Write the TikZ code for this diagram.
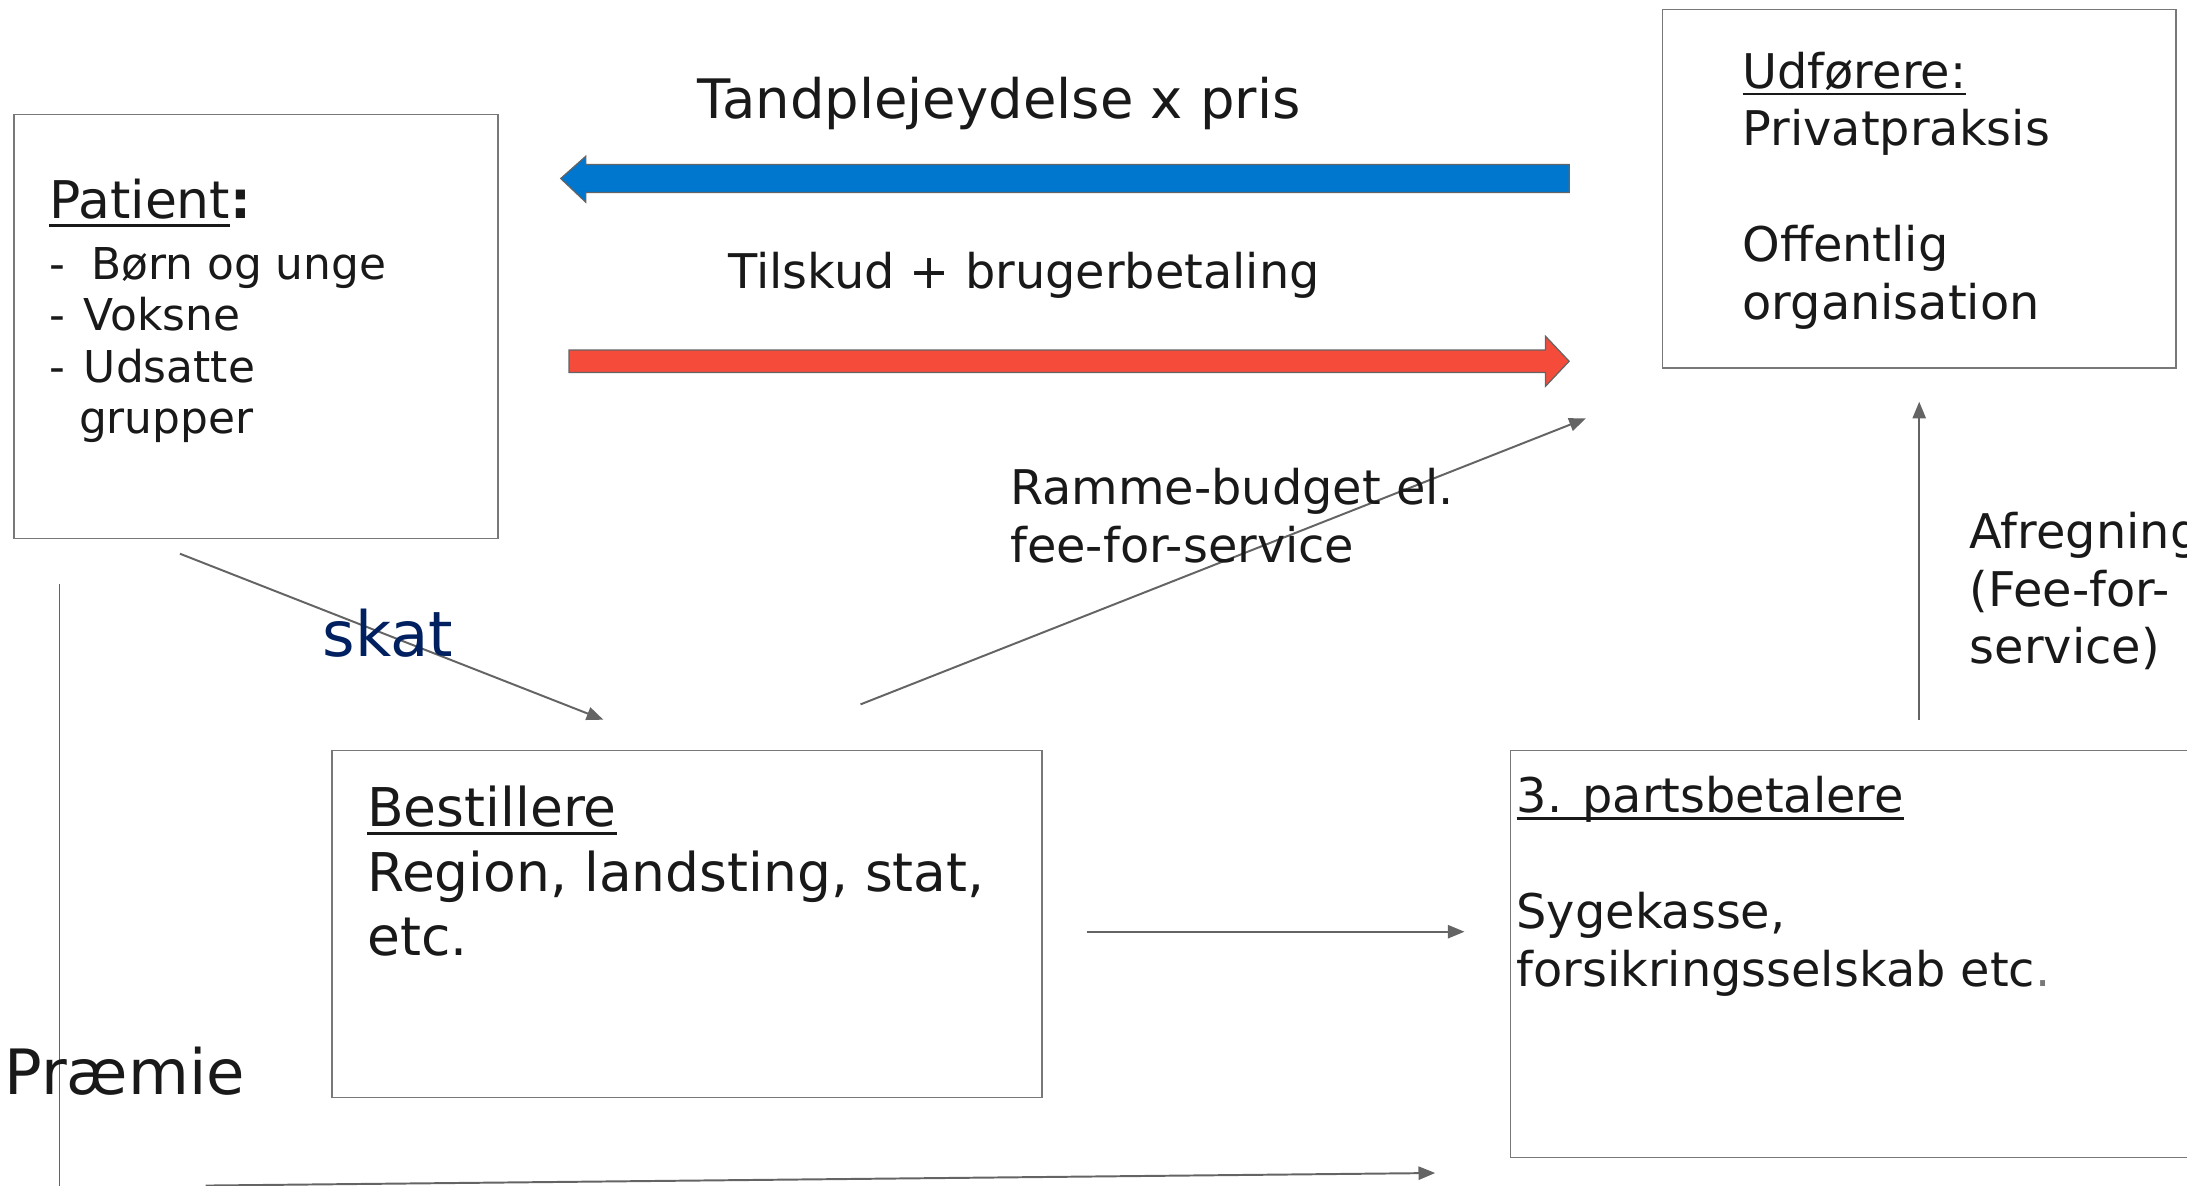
\documentclass[tikz,border=0pt]{standalone}
\usepackage{fontspec}
\setmainfont{DejaVu Sans}
\usepackage{xcolor}
\usetikzlibrary{arrows.meta,positioning,fit}

\definecolor{boxgray}{RGB}{120,120,120}
\definecolor{linegray}{RGB}{100,100,100}
\definecolor{flowblue}{RGB}{0,119,207}
\definecolor{flowred}{RGB}{244,75,58}
\definecolor{skatblue}{RGB}{0,32,96}

% underline at a fixed depth, through the descenders
\newcommand{\ulined}[1]{\setbox0=\hbox{#1}\rlap{\rule[-0.145em]{\wd0}{0.05em}}\box0}

\tikzset{
  actor/.style={draw=boxgray, line width=0.6pt, inner sep=0pt},
  % multi-line texts sit on the baseline of their last line
  txt/.style={anchor=base west, align=left, inner sep=0pt, text=black!90},
  flow/.style={draw=linegray, line width=0.8pt, -{Triangle[length=2.4mm, width=1.9mm]}},
  block/.style={draw=linegray, line width=0.5pt},
  big text/.style={font=\fontsize{21.8}{26.2}\selectfont},
  box text/.style={font=\fontsize{19.5}{23.6}\selectfont},
  list text/.style={font=\fontsize{17.9}{21}\selectfont},
  huge text/.style={font=\fontsize{25.5}{30}\selectfont}
}

\begin{document}
\begin{tikzpicture}[x=0.2mm, y=-0.2mm]
    \useasboundingbox (0,0) rectangle (1568,850);

    % The four actors
    \node[actor, fit={(10,82) (357,386)}] (patient) {};
    \node[actor, fit={(1192,7) (1560,264)}] (udfoerer) {};
    \node[actor, fit={(238,538) (747,787)}] (bestiller) {};
    \node[actor, fit={(1083,538) (1600,830)}] (tredjepart) {};

    % Texts inside the actors
    \node[txt, font=\fontsize{21.2}{25}\selectfont] (patienttitle) at (35,157) {\ulined{Patient}\textbf{:}};
    \node[txt, list text] (patientlist) at (35,311) {- \kern5pt Børn og unge\\- \kern2pt Voksne\\- \kern2pt Udsatte\\\phantom{- }grupper};
    \node[txt, box text] (udfoerertxt) at (1249,229) {\ulined{Udførere:}\\Privatpraksis\\[23.6pt]Offentlig\\organisation};
    \node[txt, big text] (bestillertxt) at (263,685) {\ulined{Bestillere}\\Region, landsting, stat,\\etc.};
    \node[txt, box text] (tredjeparttxt) at (1087,707) {\ulined{3. partsbetalere}\\[23.6pt]Sygekasse,\\forsikringsselskab etc\textcolor{boxgray}{.}};

    % Block arrows between patient and udfoerer
    \coordinate (tandtip) at (402,128);
    \coordinate (tilskudtail) at (408,259);
    \coordinate (tilskudtip) at (1125,259);
    \draw[block, fill=flowblue] (tandtip) -- ++(18,-16) -- ++(0,6) -- ++(705,0) -- ++(0,20) -- ++(-705,0) -- ++(0,7) -- cycle;
    \draw[block, fill=flowred] (tilskudtail) -- ++(0,-8) -- ++(700,0) -- ++(0,-10) -- (tilskudtip) -- ++(-17,18) -- ++(0,-10) -- ++(-700,0) -- cycle;
    \node[txt, font=\fontsize{22.2}{26}\selectfont] (tandlabel) at (500,85) {Tandplejeydelse x pris};
    \node[txt, box text] (tilskudlabel) at (522,207) {Tilskud + brugerbetaling};

    % Money flows
    \coordinate (skat from) at (129,397);
    \coordinate (skat to) at (432.6,516);
    \coordinate (ramme from) at (617,505);
    \coordinate (ramme to) at (1137,300);
    \coordinate (afregning from) at (1376,516);
    \coordinate (afregning to) at (1376,288);
    \coordinate (bestil from) at (779,668);
    \coordinate (bestil to) at (1050,668);
    \coordinate (praemie top) at (42.5,419);
    \coordinate (praemie bottom) at (42.5,850);
    \coordinate (praemie from) at (147.5,850);
    \coordinate (praemie to) at (1029,841);

    \draw[flow] (skat from) -- (skat to);
    \draw[flow] (ramme from) -- (ramme to);
    \draw[flow] (afregning from) -- (afregning to);
    \draw[flow] (bestil from) -- (bestil to);
    \draw[draw=linegray, line width=0.6pt] (praemie top) -- (praemie bottom);
    \draw[flow] (praemie from) -- (praemie to);

    % Labels of the flows
    \node[txt, huge text, text=skatblue] (skatlabel) at (231,471) {skat};
    \node[txt, box text] (rammelabel) at (724,403) {Ramme-budget el.\\fee-for-service};
    \node[txt, box text] (afregninglabel) at (1412,476) {Afregning\\(Fee-for-\\service)};
    \node[txt, huge text] (praemielabel) at (3,785) {Præmie};
\end{tikzpicture}
\end{document}
